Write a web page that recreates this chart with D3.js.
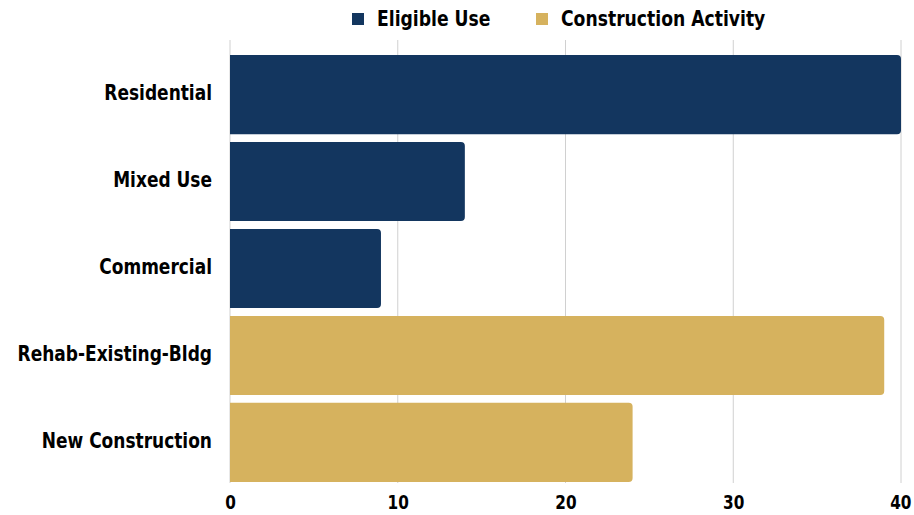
<!DOCTYPE html>
<html><head><meta charset="utf-8">
<script src="https://cdn.jsdelivr.net/npm/d3@7"></script>
<style>
body{margin:0;background:#fff;}
text{font-family:"DejaVu Sans Condensed","Liberation Sans Narrow",sans-serif;font-weight:bold;fill:#000;}
</style></head>
<body><svg id="c" width="914" height="515"></svg>
<script>
const categories = ["Residential","Mixed Use","Commercial","Rehab-Existing-Bldg","New Construction"];
const values = [40,14,9,39,24];
const groups = ["Eligible Use","Eligible Use","Eligible Use","Construction Activity","Construction Activity"];
const seriesNames = ["Eligible Use","Construction Activity"];
const tickValues = [0,10,20,30,40];

const colors = d3.scaleOrdinal().domain(seriesNames).range(["#13365f","#d6b25e"]);
const svg = d3.select("#c");
const x = d3.scaleLinear().domain([0,40]).range([230,901]);
const y = d3.scaleBand().domain(categories).range([55,482]).paddingInner(0.09).paddingOuter(0.0);

function condense(sel, f){
  sel.each(function(){
    const w = this.getComputedTextLength();
    d3.select(this).attr("textLength", w*f).attr("lengthAdjust","spacingAndGlyphs");
  });
}

// gridlines
svg.append("g").selectAll("line").data(tickValues).join("line")
  .attr("x1",d=>x(d)).attr("x2",d=>x(d)).attr("y1",40).attr("y2",483)
  .attr("stroke","#d0d0d0").attr("stroke-width",1);

const r = 4;
function barPath(x0,x1,y0,h){
  const rr = Math.min(r,(x1-x0)/2);
  return `M${x0},${y0}H${x1-rr}Q${x1},${y0} ${x1},${y0+rr}V${y0+h-rr}Q${x1},${y0+h} ${x1-rr},${y0+h}H${x0}Z`;
}
svg.append("g").selectAll("path").data(categories).join("path")
  .attr("d",(d,i)=>barPath(x(0),x(values[i]),y(d),y.bandwidth()))
  .attr("fill",(d,i)=>colors(groups[i]));

// category labels
const cl = svg.append("g").selectAll("text").data(categories).join("text")
  .attr("x",212).attr("y",d=>y(d)+y.bandwidth()/2).attr("dy","0.28em")
  .attr("text-anchor","end").attr("font-size",21).text(d=>d);
condense(cl,0.9);

// x axis labels
const xAxis = d3.axisBottom(x).tickValues(tickValues).tickSize(0).tickPadding(0);
const ax = svg.append("g").attr("transform","translate(0,509)").call(xAxis);
ax.select(".domain").remove();
ax.selectAll("text").attr("font-size",20).attr("dy","0").style("font-family",'"DejaVu Sans Condensed","Liberation Sans Narrow",sans-serif').style("font-weight","bold").attr("fill","#000");
condense(ax.selectAll("text"),0.85);
ax.selectAll(".tick").filter(d=>d===40).select("text").attr("text-anchor","end").attr("x",10);

// legend
const lx = [352,536];
const lg = svg.append("g").selectAll("g").data(seriesNames).join("g")
  .attr("transform",(d,i)=>`translate(${lx[i]},0)`);
lg.append("rect").attr("x",0).attr("y",13).attr("width",12).attr("height",12).attr("fill",d=>colors(d));
const lt = lg.append("text").attr("x",25).attr("y",19).attr("dy","0.35em").attr("font-size",21).text(d=>d);
condense(lt,0.91);
</script></body></html>
